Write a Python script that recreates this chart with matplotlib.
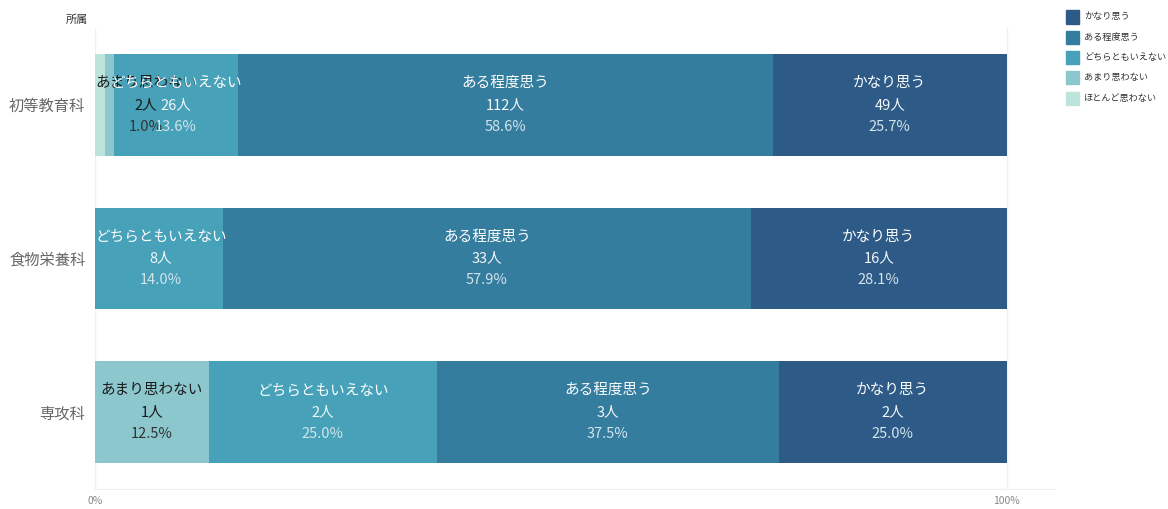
import matplotlib.pyplot as plt
import numpy as np

plt.rcParams['font.family'] = ['Noto Sans CJK JP', 'DejaVu Sans']

departments = ['初等教育科', '食物栄養科', '専攻科']
answers = ['ほとんど思わない', 'あまり思わない', 'どちらともいえない', 'ある程度思う', 'かなり思う']
colors = ['#bde4da', '#8cc7cd', '#46a1b9', '#347d9f', '#2d5a86']
counts = {
    'ほとんど思わない': [2, 0, 0],
    'あまり思わない': [2, 0, 1],
    'どちらともいえない': [26, 8, 2],
    'ある程度思う': [112, 33, 3],
    'かなり思う': [49, 16, 2],
}
# labels tableau hid because they overlapped
hidden = [('初等教育科', 'ほとんど思わない')]
dark_text = ['ほとんど思わない', 'あまり思わない']

fig = plt.figure(figsize=(11.68, 5.09), dpi=100)
ax = fig.add_axes([95 / 1168, 1 - 489 / 509, 960 / 1168, 461 / 509])

totals = np.sum([counts[a] for a in answers], axis=0)
ypos = np.arange(len(departments))
left = np.zeros(len(departments))

fig.canvas.draw()
renderer = fig.canvas.get_renderer()
ax.set_xlim(0, 105.3)
ax.set_ylim(len(departments) - 0.5, -0.5)

for ans, col in zip(answers, colors):
    vals = np.array(counts[ans])
    pct = vals / totals * 100
    ax.barh(ypos, pct, left=left, height=0.66, color=col, edgecolor='none')
    for i, dep in enumerate(departments):
        if vals[i] == 0 or (dep, ans) in hidden:
            continue
        cx = left[i] + pct[i] / 2
        if ans in dark_text:
            c1, c2, c3 = '#1a1a1a', '#1a1a1a', '#333333'
        else:
            c1, c2, c3 = '#ffffff', '#f2f6f8', '#d2e4ec'
        t = ax.text(cx, i, ans, fontsize=10.5, color=c1, ha='center', va='center')
        # keep the label inside the pane like tableau does
        w = t.get_window_extent(renderer).width
        half = w / 2 / ax.get_window_extent(renderer).width * 105.3
        if cx - half < 0:
            cx = half
        t.remove()
        ax.annotate(ans, (cx, i), xytext=(0, 15.8), textcoords='offset points',
                    fontsize=10.5, color=c1, ha='center', va='center')
        ax.annotate(f'{vals[i]}人', (cx, i), fontsize=10.5, color=c2,
                    ha='center', va='center')
        ax.annotate(f'{pct[i]:.1f}%', (cx, i), xytext=(0, -15.8), textcoords='offset points',
                    fontsize=10.5, color=c3, ha='center', va='center')
    left += pct

for s in ['top', 'right', 'left']:
    ax.spines[s].set_visible(False)
ax.spines['bottom'].set_color('#f0f0f0')
ax.axvline(0, color='#f0f0f0', lw=1, zorder=0)
ax.axvline(100, color='#f0f0f0', lw=1, zorder=0)

ax.set_yticks(ypos)
ax.set_yticklabels(departments, fontsize=11, color='#666666')
ax.set_xticks([0, 100])
ax.set_xticklabels(['0%', '100%'], fontsize=7.5, color='#888888')
ax.tick_params(length=0)
ax.tick_params(axis='x', pad=5)
ax.tick_params(axis='y', pad=7)

fig.text(88 / 1168, 1 - 20 / 509, '所属', fontsize=8, color='#333333',
         ha='right', va='center')

# legend, top right
for k, (ans, col) in enumerate(reversed(list(zip(answers, colors)))):
    y = 1 - (17 + 20.3 * k) / 509
    fig.patches.append(plt.Rectangle((1066 / 1168, y - 6.5 / 509), 13 / 1168, 13 / 509,
                                     color=col, transform=fig.transFigure))
    fig.text(1084 / 1168, y, ans, fontsize=6.6, color='#333333', va='center')

fig.savefig('out.png', dpi=100)
